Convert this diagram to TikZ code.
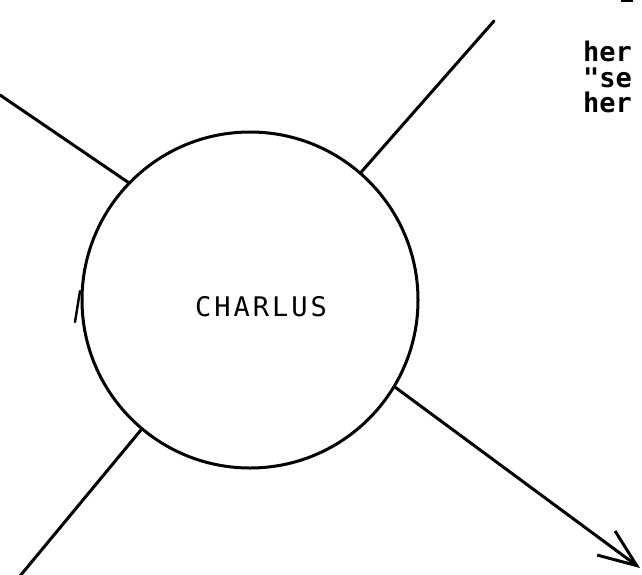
\documentclass[tikz,border=0pt]{standalone}
\usepackage{fontspec}
\setmonofont{DejaVu Sans Mono}
\newfontfamily\charfont[LetterSpace=11]{DejaVu Sans Mono}
\newfontfamily\sidefont{DejaVu Sans Mono Bold}
\usetikzlibrary{arrows.meta}
\begin{document}
\begin{tikzpicture}[x=1pt,y=-1pt,
  ink/.style={line width=3pt,line cap=round,line join=round},
  ring/.style={ink,draw,circle,minimum size=336pt,inner sep=0pt},
  sidetext/.style={anchor=base west,inner sep=0pt,font=\sidefont\fontsize{27}{27}\selectfont}]
\useasboundingbox (0,0) rectangle (642,574);
\clip (0,0) rectangle (642,574);
\node[ring] (c) at (250,300) {};
\node[inner sep=0pt,font=\charfont\fontsize{27}{27}\selectfont] (name) at (261,307) {CHARLUS};
\coordinate (ul) at (0,95);
\coordinate (ur) at (494,21);
\coordinate (lr) at (640,568);
\coordinate (ll) at (20,576);
\draw[ink] (c.136.7) -- (ul);
\draw[ink] (c.49) -- (ur);
\draw[ink] (c.-130.5) -- (ll);
\draw[ink,-{Straight Barb[length=38pt,width=30pt]}] (c.-31) -- (lr);
\coordinate (barbstart) at (80,291);
\coordinate (barbend) at (75,322);
\draw[line width=2.4pt,line cap=round] (barbstart) -- (barbend);
\node[sidetext] (t1) at (583,61) {her};
\node[sidetext] (t2) at (583,87) {"se};
\node[sidetext] (t3) at (583,112) {her};
\fill (621,0) rectangle (633,2);
\end{tikzpicture}
\end{document}
